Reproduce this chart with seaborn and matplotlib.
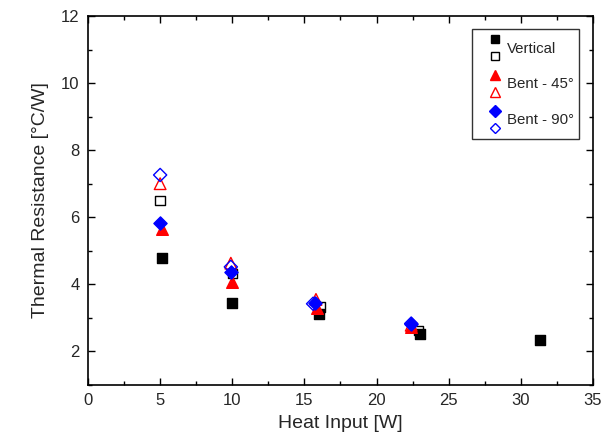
import numpy as np
import pandas as pd
import seaborn as sns
import matplotlib.pyplot as plt
from matplotlib.lines import Line2D
from matplotlib.legend_handler import HandlerBase
from matplotlib.ticker import MultipleLocator

# -----------------------------------
# Data
# -----------------------------------

vert_fill_x = [5.1, 10.0, 16.0, 23.0, 31.3]
vert_fill_y = [4.78, 3.45, 3.12, 2.53, 2.33]
vert_open_x = [5.0, 10.0, 16.1, 22.9]
vert_open_y = [6.49, 4.32, 3.32, 2.62]

b45_fill_x = [5.1, 10.0, 15.9, 22.4]
b45_fill_y = [5.64, 4.08, 3.30, 2.72]
b45_open_x = [5.0, 9.9, 15.8, 22.4]
b45_open_y = [7.00, 4.63, 3.55, 2.78]

b90_fill_x = [5.0, 9.9, 15.7, 22.4]
b90_fill_y = [5.84, 4.38, 3.45, 2.83]
b90_open_x = [5.0, 9.9, 15.6, 22.4]
b90_open_y = [7.26, 4.52, 3.42, 2.83]

legend_labels = ["Vertical", "Bent - 45°", "Bent - 90°"]

# -----------------------------------
# Style
# -----------------------------------

sns.set_theme(style="white")
plt.rcParams["font.family"] = ["Liberation Sans", "DejaVu Sans"]

fig, ax = plt.subplots(figsize=(6.09, 4.44), dpi=100)
plt.subplots_adjust(left=0.1445, right=0.9737, top=0.964, bottom=0.133)

# (x, y, marker, color, filled, size)
series = [
    (vert_fill_x, vert_fill_y, "s", "black", True, 45),
    (vert_open_x, vert_open_y, "s", "black", False, 45),
    (b45_fill_x, b45_fill_y, "^", "red", True, 70),
    (b45_open_x, b45_open_y, "^", "red", False, 70),
    (b90_fill_x, b90_fill_y, "D", "blue", True, 45),
    (b90_open_x, b90_open_y, "D", "blue", False, 45),
]

for x, y, marker, color, filled, size in series:
    df = pd.DataFrame({"x": x, "y": y})
    sns.scatterplot(
        data=df, x="x", y="y", ax=ax, marker=marker, s=size,
        facecolor=color if filled else "none",
        edgecolor=color, linewidth=1.0, legend=False, zorder=3,
    )

# -----------------------------------
# Axes
# -----------------------------------

ax.set_xlim(0, 35)
ax.set_ylim(1, 12)
ax.xaxis.set_major_locator(MultipleLocator(5))
ax.xaxis.set_minor_locator(MultipleLocator(2.5))
ax.yaxis.set_major_locator(MultipleLocator(2))
ax.yaxis.set_minor_locator(MultipleLocator(1))

ax.set_xlabel("Heat Input [W]", fontsize=14, labelpad=5)
ax.set_ylabel("Thermal Resistance [°C/W]", fontsize=14, labelpad=9)

for spine in ax.spines.values():
    spine.set_visible(True)
    spine.set_color("black")
    spine.set_linewidth(1.2)

ax.tick_params(axis="both", which="major", direction="in", length=5, width=1,
               color="black", labelsize=12, top=True, right=True,
               bottom=True, left=True, pad=6)
ax.tick_params(axis="both", which="minor", direction="in", length=3, width=1,
               color="black", top=True, right=True, bottom=True, left=True)
ax.grid(False)

# -----------------------------------
# Legend with stacked filled / open symbols
# -----------------------------------


class StackedHandler(HandlerBase):
    def create_artists(self, legend, orig_handle, xdescent, ydescent,
                       width, height, fontsize, trans):
        artists = []
        top, bot = orig_handle
        cy = height / 2 - ydescent
        cx = width * 0.66 - xdescent
        for h, yy in ((top, cy + 6.5), (bot, cy - 6.0)):
            m = Line2D([cx], [yy])
            m.update_from(h)
            m.set_linestyle("none")
            m.set_transform(trans)
            artists.append(m)
        return artists


def proxy(marker, color, filled, ms):
    return Line2D([], [], linestyle="none", marker=marker, markersize=ms,
                  markerfacecolor=color if filled else "none",
                  markeredgecolor=color, markeredgewidth=1.0)


handles = [
    (proxy("s", "black", True, 5.8), proxy("s", "black", False, 5.5)),
    (proxy("^", "red", True, 7.3), proxy("^", "red", False, 7.3)),
    (proxy("D", "blue", True, 5.8), proxy("D", "blue", False, 5.5)),
]

leg = ax.legend(handles, legend_labels, handler_map={tuple: StackedHandler()},
                loc="upper right", bbox_to_anchor=(0.972, 0.965),
                borderaxespad=0, fontsize=10.8,
                frameon=True, fancybox=False, edgecolor="black",
                handlelength=1.75, handleheight=2.45, handletextpad=0.2,
                labelspacing=0.55, borderpad=0.35)
leg.get_frame().set_linewidth(1.0)

fig.savefig("out.png", dpi=100)
